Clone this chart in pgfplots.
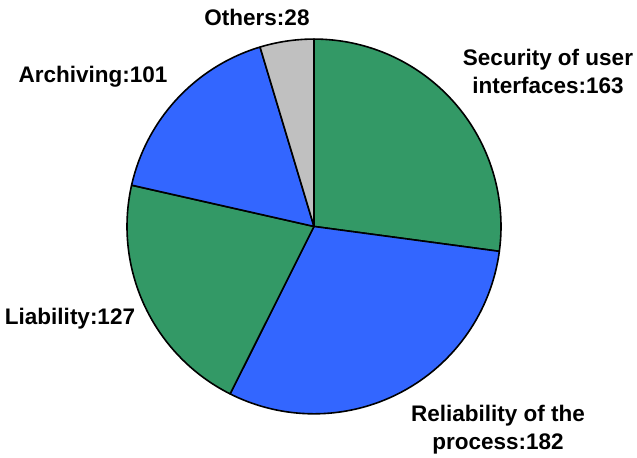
\documentclass[border=0pt]{standalone}
\usepackage{pgfplots}
\pgfplotsset{compat=1.18}
\usepackage{fontspec}
\setmainfont{Liberation Sans}

\definecolor{pgreen}{RGB}{51,153,102}
\definecolor{pblue}{RGB}{51,102,255}
\definecolor{pgray}{RGB}{192,192,192}

% slice values, clockwise from 12 o'clock
\def\vSec{163}
\def\vRel{182}
\def\vLia{127}
\def\vArc{101}
\def\vOth{28}
\pgfmathsetmacro{\total}{\vSec+\vRel+\vLia+\vArc+\vOth}
\pgfmathsetmacro{\cA}{\vSec}
\pgfmathsetmacro{\cB}{\cA+\vRel}
\pgfmathsetmacro{\cC}{\cB+\vLia}
\pgfmathsetmacro{\cD}{\cC+\vArc}
\pgfmathsetmacro{\cE}{\cD+\vOth}

% pie centre and radius in axis units
\def\cx{314}
\def\cy{231}
\def\rr{187}

\begin{document}
\begin{tikzpicture}
\begin{axis}[
  width=318.5pt, height=228.5pt, scale only axis,
  xmin=0, xmax=637, ymin=0, ymax=457,
  hide axis, clip=false,
  every axis plot/.append style={draw=black, line width=0.8pt, line join=round, samples=90, variable=\t},
]
\path (axis cs:0,0) rectangle (axis cs:637,457);
\addplot[fill=pgreen, domain=0:\cA]
  ({\cx+\rr*sin(\t*360/\total)},{\cy+\rr*cos(\t*360/\total)}) -- (axis cs:\cx,\cy) -- cycle;
\addplot[fill=pblue, domain=\cA:\cB]
  ({\cx+\rr*sin(\t*360/\total)},{\cy+\rr*cos(\t*360/\total)}) -- (axis cs:\cx,\cy) -- cycle;
\addplot[fill=pgreen, domain=\cB:\cC]
  ({\cx+\rr*sin(\t*360/\total)},{\cy+\rr*cos(\t*360/\total)}) -- (axis cs:\cx,\cy) -- cycle;
\addplot[fill=pblue, domain=\cC:\cD]
  ({\cx+\rr*sin(\t*360/\total)},{\cy+\rr*cos(\t*360/\total)}) -- (axis cs:\cx,\cy) -- cycle;
\addplot[fill=pgray, domain=\cD:\cE]
  ({\cx+\rr*sin(\t*360/\total)},{\cy+\rr*cos(\t*360/\total)}) -- (axis cs:\cx,\cy) -- cycle;

\begin{scope}[every node/.style={font=\bfseries\fontsize{11.25pt}{14pt}\selectfont, align=center, inner sep=0pt}]
\node at (axis cs:257,440) {Others:\vOth};
\node at (axis cs:548,386) {Security of user\\interfaces:\vSec};
\node at (axis cs:93,380) {Archiving:\vArc};
\node at (axis cs:70,139) {Liability:\vLia};
\node at (axis cs:498,28) {Reliability of the\\process:\vRel};
\end{scope}
\end{axis}
\end{tikzpicture}
\end{document}
